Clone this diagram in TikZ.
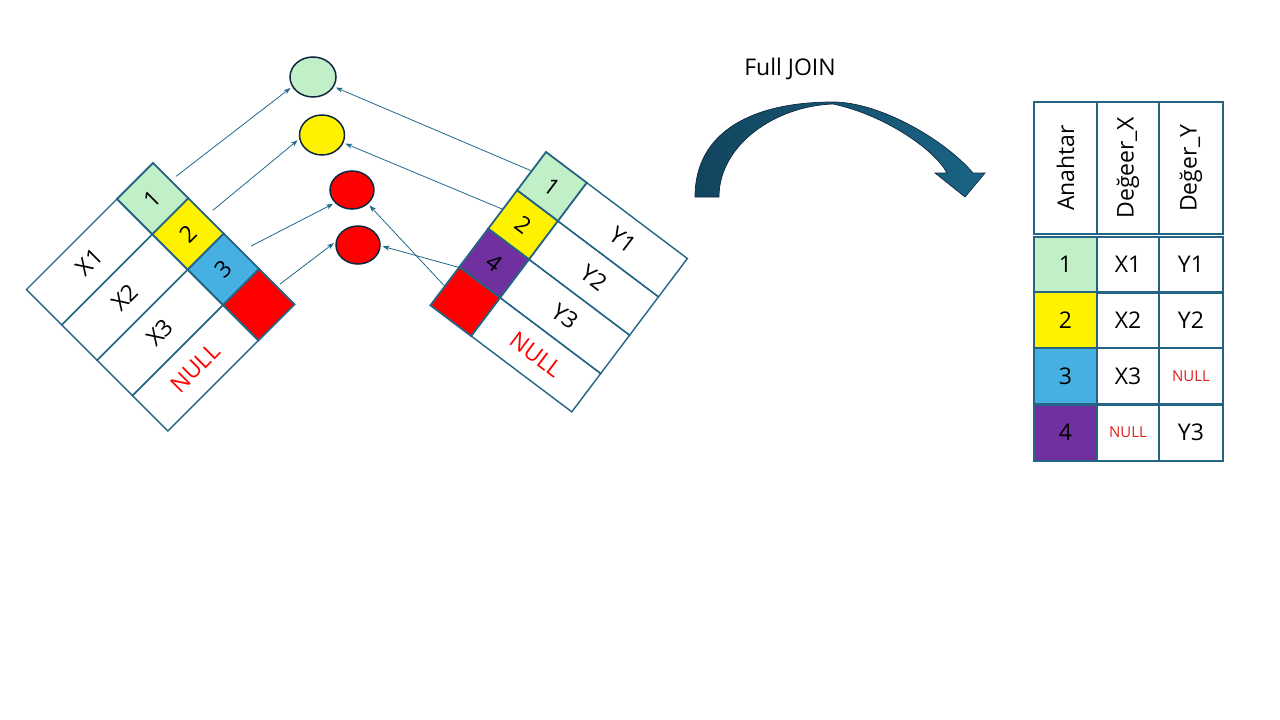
\documentclass[tikz,border=0pt]{standalone}
\usepackage{fontspec}
\setmainfont{Open Sans}
\usetikzlibrary{shapes.geometric,arrows.meta,calc}
\definecolor{bord}{RGB}{36,100,132}
\definecolor{lgreen}{HTML}{C1F0C8}
\definecolor{lblue}{HTML}{45B0E1}
\definecolor{purp}{HTML}{7030A0}
\definecolor{dark}{HTML}{0E2841}
\definecolor{arrc}{HTML}{1F6A8A}
\definecolor{bigL}{HTML}{12455E}
\definecolor{bigR}{HTML}{1A6485}
\definecolor{nullr}{HTML}{E0201C}
\tikzset{
  txt/.style={font=\fontsize{23}{27}\selectfont},
  lv/.style={draw=bord, line width=1.4pt, minimum width=128pt, minimum height=50pt, inner sep=0pt, txt},
  lk/.style={draw=bord, line width=1.8pt, minimum width=51pt, minimum height=50pt, inner sep=0pt, txt},
  rv/.style={draw=bord, line width=1.4pt, minimum width=126pt, minimum height=48pt, inner sep=0pt, txt},
  rk/.style={draw=bord, line width=1.8pt, minimum width=51pt, minimum height=48pt, inner sep=0pt, txt},
  circ/.style={ellipse, draw=dark, line width=1.5pt, inner sep=0pt},
  conn/.style={draw=arrc, line width=0.8pt, -{Stealth[length=7pt,width=5pt]}, shorten >=2pt},
  tc/.style={draw=bord, line width=2pt, inner sep=0pt, txt},
  ca/.style={minimum width=63pt},
  cb/.style={minimum width=62pt},
  cc/.style={minimum width=64pt},
  hd/.style={minimum height=132pt},
  rw/.style={minimum height=56pt},
  smallnull/.style={text=nullr, font=\fontsize{15}{18}\selectfont}
}
\begin{document}
\begin{tikzpicture}[x=1pt,y=1pt]
\fill[white] (0,0) rectangle (1280,-720);
\useasboundingbox (0,0) rectangle (1280,-720);

% left table
\begin{scope}[shift={(117,-199)},rotate=45,transform shape]
  \node[lv] (LX1) at (-64,-25) {X1};
  \node[lv] (LX2) at (-64,-75) {X2};
  \node[lv] (LX3) at (-64,-125) {X3};
  \node[lv,text=red] (LX4) at (-64,-175) {NULL};
  \node[lk,fill=lgreen] (LK1) at (25.5,-25) {1};
  \node[lk,fill=yellow] (LK2) at (25.5,-75) {2};
  \node[lk,fill=lblue] (LK3) at (25.5,-125) {3};
  \node[lk,fill=red] (LK4) at (25.5,-175) {};
\end{scope}

% right table
\begin{scope}[shift={(546,-152)},rotate=-37,transform shape]
  \node[rv] (RY1) at (114,-24) {Y1};
  \node[rv] (RY2) at (114,-72) {Y2};
  \node[rv] (RY3) at (114,-120) {Y3};
  \node[rv,text=red] (RY4) at (114,-168) {NULL};
  \node[rk,fill=lgreen] (RK1) at (25.5,-24) {1};
  \node[rk,fill=yellow] (RK2) at (25.5,-72) {2};
  \node[rk,fill=purp] (RK4) at (25.5,-120) {4};
  \node[rk,fill=red] (RK5) at (25.5,-168) {};
\end{scope}

% ellipses
\node[circ,fill=lgreen,minimum width=46pt,minimum height=40pt] (E1) at (313,-77) {};
\node[circ,fill=yellow,minimum width=45pt,minimum height=40pt] (E2) at (322,-135) {};
\node[circ,fill=red,minimum width=44pt,minimum height=38pt] (E3) at (352,-190) {};
\node[circ,fill=red,minimum width=44pt,minimum height=38pt] (E4) at (358,-245) {};

% connectors
\draw[conn,shorten <=6pt] (LK1.east) -- (E1.205);
\draw[conn,shorten <=8pt] (LK2.east) -- (E2.190);
\draw[conn,shorten <=10pt] (LK3.east) -- (E3.217);
\draw[conn,shorten <=3pt] (LK4.east) -- (E4.172);
\draw[conn] (RK1.west) -- (E1.335);
\draw[conn] (RK2.west) -- (E2.340);
\draw[conn] (RK4.south west) -- (E4.358);
\draw[conn] (RK5.west) -- (E3.319);

% big curved arrow
\node[txt] (FJ) at (790,-69) {Full JOIN};
\draw[draw=dark, line width=0.7pt, left color=bigL, right color=bigR]
  (695,-197) .. controls (695,-130) and (755,-102) .. (833,-102)
  .. controls (880,-102) and (945,-140) .. (973,-173)
  -- (985,-173) -- (965,-197) -- (935,-173) -- (947,-173)
  .. controls (935,-150) and (885,-115) .. (833,-104)
  .. controls (775,-106) and (719,-145) .. (719,-197) -- cycle;

% result table
\node[tc,ca,hd] (H1) at (1065.5,-168) {\rotatebox{90}{Anahtar}};
\node[tc,cb,hd] (H2) at (1128,-168) {\rotatebox{90}{Değeer\_X}};
\node[tc,cc,hd] (H3) at (1191,-168) {\rotatebox{90}{Değer\_Y}};

\node[tc,ca,rw,fill=lgreen] (A1) at (1065.5,-264.5) {1};
\node[tc,cb,rw] (B1) at (1128,-264.5) {X1};
\node[tc,cc,rw] (C1) at (1191,-264.5) {Y1};

\node[tc,ca,rw,fill=yellow] (A2) at (1065.5,-320) {2};
\node[tc,cb,rw] (B2) at (1128,-320) {X2};
\node[tc,cc,rw] (C2) at (1191,-320) {Y2};

\node[tc,ca,rw,fill=lblue] (A3) at (1065.5,-376) {3};
\node[tc,cb,rw] (B3) at (1128,-376) {X3};
\node[tc,cc,rw,smallnull] (C3) at (1191,-376) {NULL};

\node[tc,ca,rw,fill=purp] (A4) at (1065.5,-432.5) {4};
\node[tc,cb,rw,smallnull] (B4) at (1128,-432.5) {NULL};
\node[tc,cc,rw] (C4) at (1191,-432.5) {Y3};
\end{tikzpicture}
\end{document}
